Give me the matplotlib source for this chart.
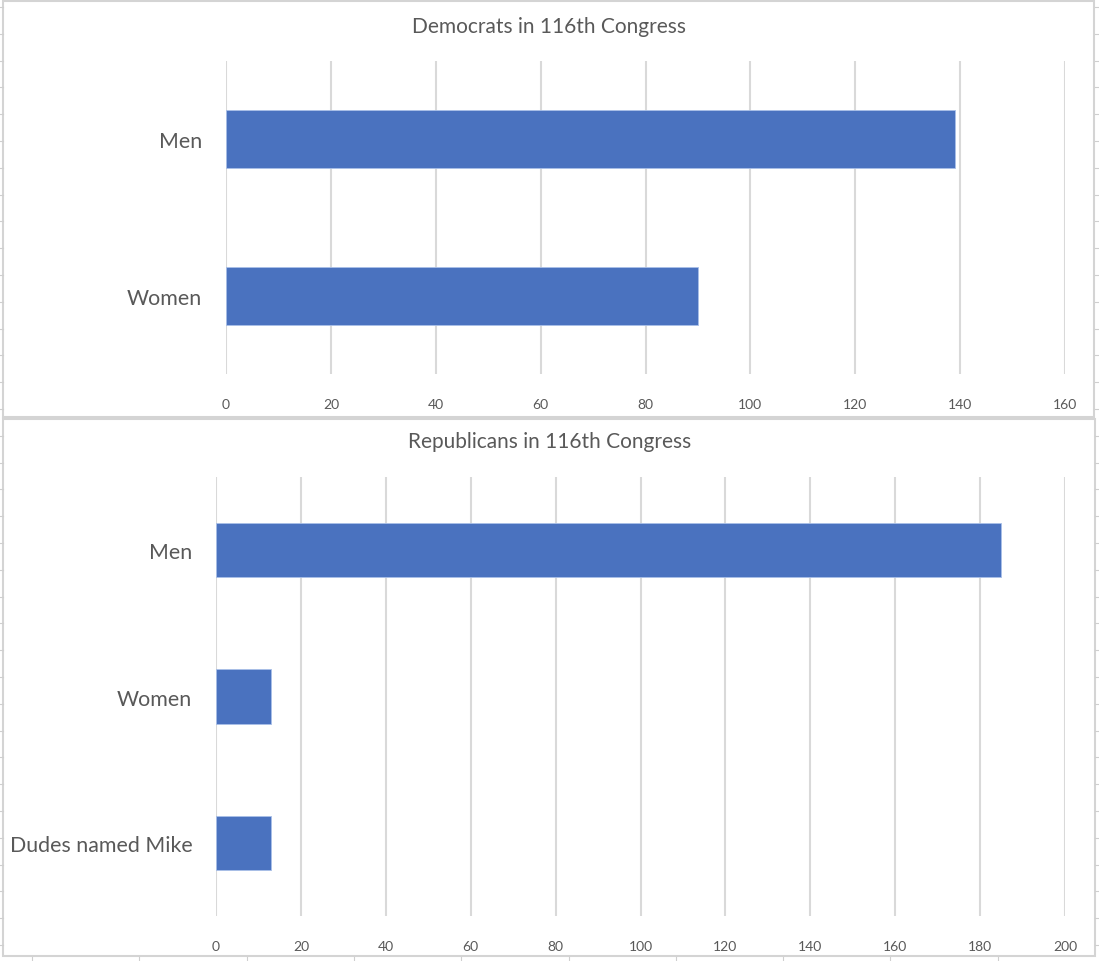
import matplotlib.pyplot as plt
from matplotlib.lines import Line2D
from matplotlib.patches import Rectangle
import numpy as np

plt.rcParams['font.family'] = ['Lato', 'DejaVu Sans']

dem_labels = ['Men', 'Women']
dem_values = [139, 90]
dem_ticks = [0, 20, 40, 60, 80, 100, 120, 140, 160]

rep_labels = ['Men', 'Women', 'Dudes named Mike']
rep_values = [185, 13, 13]
rep_ticks = [0, 20, 40, 60, 80, 100, 120, 140, 160, 180, 200]

W, H = 1099, 962
fig = plt.figure(figsize=(W / 100, H / 100), dpi=100)
fig.patch.set_facecolor('white')

text_color = '#595959'
grid_color = '#d9d9d9'
bar_color = '#4a72bf'


def px_box(l, t, r, b):
    return [l / W, 1 - b / H, (r - l) / W, (b - t) / H]


# spreadsheet grid peeking out around the chart cards
for y in np.arange(8, H, 26.8):
    fig.add_artist(Line2D([0, 3 / W], [1 - y / H] * 2, color='#cfcfcf', lw=0.8))
    fig.add_artist(Line2D([1095 / W, 1], [1 - y / H] * 2, color='#cfcfcf', lw=0.8))
for x in np.arange(32, W, 107.3):
    fig.add_artist(Line2D([x / W] * 2, [0, 1 - 958 / H], color='#cfcfcf', lw=0.8))

# chart cards
for l, t, r, b in [(3, 2, 1094, 418), (3, 420, 1095, 957)]:
    fig.add_artist(Rectangle((l / W, 1 - b / H), (r - l) / W, (b - t) / H,
                             transform=fig.transFigure, fill=True, facecolor='white',
                             edgecolor='#d4d4d4', lw=1.5, zorder=0))


def draw(ax, labels, values, ticks, title, title_y):
    pos = np.arange(len(labels))
    ax.barh(pos, values, height=0.37, color=bar_color, edgecolor='#a9c0e8',
            linewidth=0.6, zorder=3)
    ax.set_yticks(pos)
    ax.set_yticklabels(labels, fontsize=15.4, color=text_color)
    ax.set_ylim(len(labels) - 0.5, -0.5)
    ax.set_xlim(ticks[0], ticks[-1])
    ax.set_xticks(ticks)
    ax.tick_params(axis='x', labelsize=10, colors=text_color, length=0, pad=17)
    ax.tick_params(axis='y', length=0, pad=17)
    ax.grid(axis='x', color=grid_color, lw=1.5, zorder=0)
    ax.set_axisbelow(True)
    for s in ax.spines.values():
        s.set_visible(False)
    ax.set_facecolor('none')
    fig.text(0.5, 1 - title_y / H, title, ha='center', va='center',
             fontsize=15, color=text_color)


ax1 = fig.add_axes(px_box(226, 62, 1065, 375))
draw(ax1, dem_labels, dem_values, dem_ticks, 'Democrats in 116th Congress', 27)

ax2 = fig.add_axes(px_box(216, 478, 1065, 917))
draw(ax2, rep_labels, rep_values, rep_ticks, 'Republicans in 116th Congress', 442)

plt.savefig('out.png', dpi=100)
